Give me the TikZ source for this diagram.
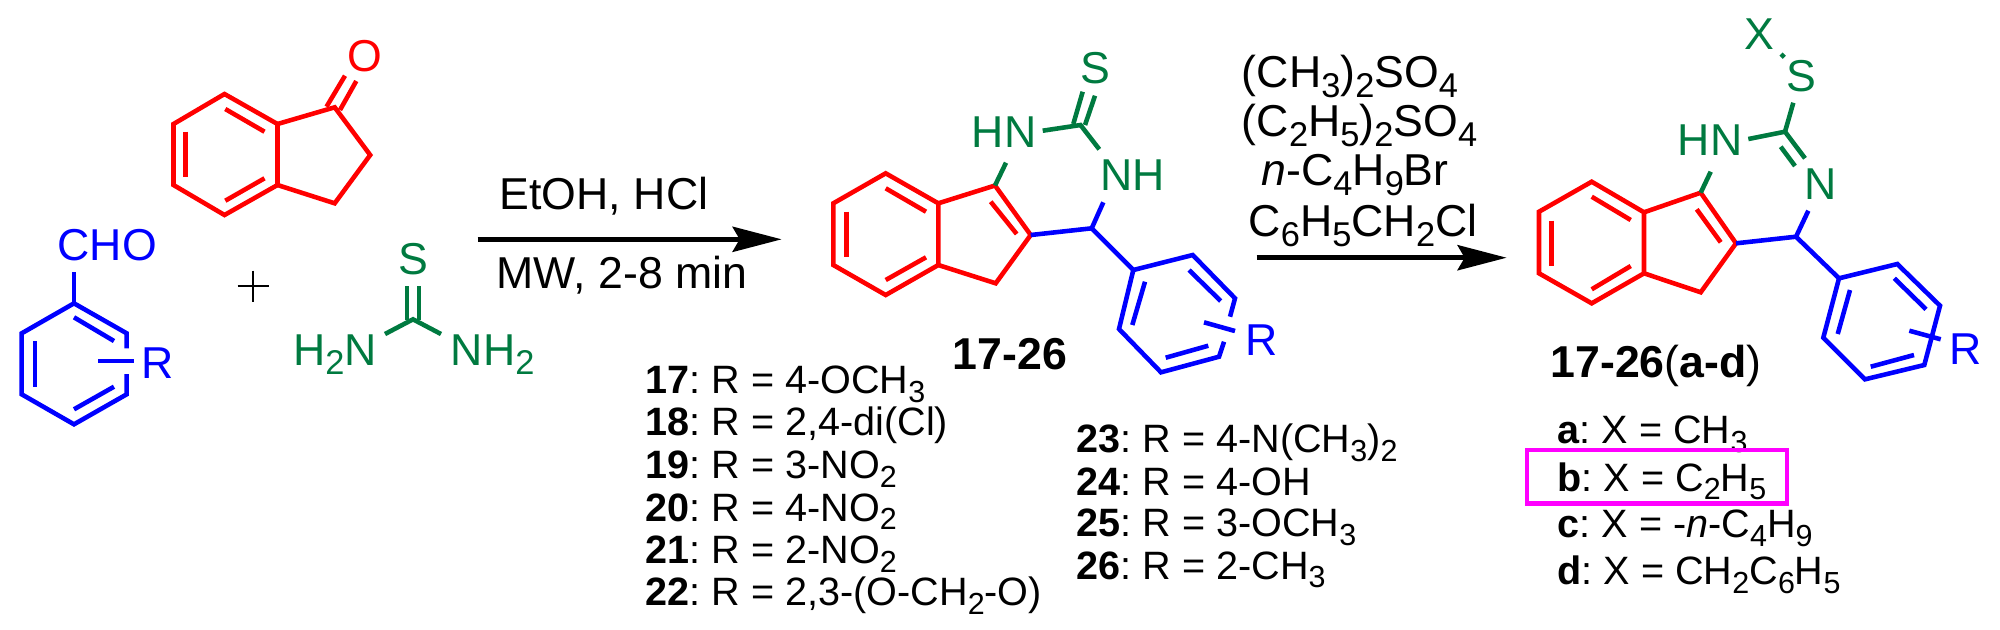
\documentclass[tikz,border=0pt]{standalone}
\usepackage{fontspec}
\setmainfont{Liberation Sans}
\usetikzlibrary{arrows.meta}
\definecolor{mred}{rgb}{1, 0, 0}
\definecolor{mblue}{rgb}{0, 0, 1}
\definecolor{mgreen}{rgb}{0, 0.48, 0.25}
\definecolor{mpink}{rgb}{1, 0, 1}
\newcommand{\sbs}[1]{\raisebox{-0.22em}{\scalebox{0.77}{#1}}}
\tikzset{bond/.style = {line width = 1.3pt, line cap = butt, line join = miter}}
\tikzset{rbond/.style = {bond, draw = mred}}
\tikzset{bbond/.style = {bond, draw = mblue}}
\tikzset{gbond/.style = {bond, draw = mgreen}}
\tikzset{big/.style = {inner sep = 0, font = \fontsize{12.7}{15}\selectfont\frenchspacing}}
\tikzset{small/.style = {inner sep = 0, anchor = base west, font = \fontsize{11.25}{13}\selectfont\frenchspacing}}
\tikzset{gatom/.style = {big, anchor = base, text = mgreen}}
\tikzset{batom/.style = {big, anchor = base west, text = mblue}}
\tikzset{rarrow/.style = {line width = 1.5pt, -{Stealth[length=4.9mm, width=2.5mm, inset=0.7mm]}}}

\begin{document}
\begin{tikzpicture}[x=0.01cm, y=-0.01cm]
  \useasboundingbox (0, 0) rectangle (2000, 629);

  \coordinate (a1) at (224.5, 94);
  \coordinate (a2) at (173.5, 124);
  \coordinate (a3) at (173.5, 185);
  \coordinate (a4) at (224.5, 215);
  \coordinate (a5) at (277.5, 185);
  \coordinate (a6) at (277.5, 124);
  \coordinate (a7) at (334.7, 107.3);
  \coordinate (a8) at (370.2, 155);
  \coordinate (a9) at (334.7, 203.3);
  \draw [rbond] (a1) -- (a2) -- (a3) -- (a4) -- (a5) -- (a6) -- cycle;
  \draw [rbond] (a6) -- (a7) -- (a8) -- (a9) -- (a5);
  \draw [rbond] (225.3, 109) -- (264.5, 131.7);
  \draw [rbond] (185.7, 131.7) -- (185.7, 177.3);
  \draw [rbond] (225.3, 200.7) -- (264.5, 178.3);
  \draw [rbond] (326.5, 106.7) -- (345, 75.7);
  \draw [rbond] (340, 110) -- (356.3, 81);
  \node [big, anchor = base, text = mred] (ketone) at (364.5, 71) {O};

  \coordinate (b1) at (74, 303.3);
  \coordinate (b2) at (21.7, 333.3);
  \coordinate (b3) at (21.7, 394.3);
  \coordinate (b4) at (74, 424.3);
  \coordinate (b5) at (126.7, 394.3);
  \coordinate (b6) at (126.7, 333.3);
  \coordinate (b7) at (74, 271.7);
  \coordinate (b8) at (126.7, 348.3);
  \coordinate (b9) at (126.7, 374);
  \coordinate (b10) at (98.3, 361);
  \coordinate (b11) at (134.3, 361);
  \draw [bbond] (b8) -- (b6) -- (b1) -- (b2) -- (b3) -- (b4) -- (b5) -- (b9);
  \draw [bbond] (b1) -- (b7);
  \draw [bbond] (b10) -- (b11);
  \draw [bbond] (74, 317.3) -- (114, 341);
  \draw [bbond] (35, 341) -- (35, 386.7);
  \draw [bbond] (74, 409.3) -- (114, 386.7);
  \node [big, anchor = base, text = mblue] (cho) at (107.3, 260) {CHO};
  \node [batom] (rleft) at (140.5, 378.3) {R};

  \coordinate (p1) at (237.5, 286);
  \coordinate (p2) at (269.4, 286);
  \coordinate (p3) at (253, 270.7);
  \coordinate (p4) at (253, 301.7);
  \draw [line width = 0.5pt] (p1) -- (p2);
  \draw [line width = 0.5pt] (p3) -- (p4);

  \coordinate (t1) at (413, 319.3);
  \coordinate (t2) at (385, 334);
  \coordinate (t3) at (441, 334);
  \draw [gbond] (t2) -- (t1) -- (t3);
  \draw [gbond] (407, 286) -- (407, 320);
  \draw [gbond] (419, 286) -- (419, 320);
  \node [gatom] (thione) at (413.5, 274.5) {S};
  \node [gatom] (amine1) at (335, 365) {H\sbs{2}N};
  \node [gatom] (amine2) at (492.8, 365) {NH\sbs{2}};

  \coordinate (r1) at (477.5, 239.3);
  \coordinate (r2) at (781.7, 239.3);
  \draw [rarrow] (r1) -- (r2);
  \node [big, anchor = base] (cond1) at (604, 209.3) {EtOH, HCl};
  \node [big, anchor = base] (cond2) at (622, 288.7) {MW, 2-8 min};

  \coordinate (c1) at (885.7, 173.3);
  \coordinate (c2) at (833.3, 203.3);
  \coordinate (c3) at (833.3, 265);
  \coordinate (c4) at (885.7, 295);
  \coordinate (c5) at (938.3, 265);
  \coordinate (c6) at (938.3, 203.3);
  \coordinate (c7) at (995, 185.5);
  \coordinate (c8) at (1030.7, 235);
  \coordinate (c9) at (995.7, 283.3);
  \draw [rbond] (c1) -- (c2) -- (c3) -- (c4) -- (c5) -- (c6) -- cycle;
  \draw [rbond] (c6) -- (c7) -- (c8) -- (c9) -- (c5);
  \draw [rbond] (885.7, 188.3) -- (926, 211.7);
  \draw [rbond] (846.7, 211.7) -- (846.7, 256.7);
  \draw [rbond] (885.7, 280) -- (926, 257.3);
  \draw [rbond] (990.7, 201.7) -- (1016.7, 234);

  \coordinate (c10) at (1006, 162.7);
  \coordinate (c11) at (1080.5, 125);
  \coordinate (c12) at (1042.7, 130.7);
  \coordinate (c13) at (1099.3, 149.3);
  \draw [gbond] (c7) -- (c10);
  \draw [gbond] (c12) -- (c11) -- (c13);
  \draw [gbond] (1073.3, 124) -- (1082.7, 91.7);
  \draw [gbond] (1085, 125) -- (1095, 95.7);
  \node [gatom] (sulfur) at (1095.7, 83) {S};
  \node [gatom] (hn1) at (1004.2, 147.3) {HN};
  \node [gatom] (nh1) at (1132.5, 190.7) {NH};

  \coordinate (d0) at (1091.7, 228.3);
  \coordinate (d1) at (1103.3, 202.3);
  \coordinate (d2) at (1133.3, 270);
  \coordinate (d3) at (1192.7, 255);
  \coordinate (d4) at (1235, 298.3);
  \coordinate (d5) at (1219, 356.7);
  \coordinate (d6) at (1161, 372.3);
  \coordinate (d7) at (1119, 329);
  \coordinate (d8) at (1230, 316.7);
  \coordinate (d9) at (1224, 341.7);
  \coordinate (d10) at (1204, 322.3);
  \coordinate (d11) at (1235, 331);
  \draw [bbond] (c8) -- (d0) -- (d1);
  \draw [bbond] (d0) -- (d2);
  \draw [bbond] (d8) -- (d4) -- (d3) -- (d2) -- (d7) -- (d6) -- (d5) -- (d9);
  \draw [bbond] (d10) -- (d11);
  \draw [bbond] (1145, 281.7) -- (1132.3, 325);
  \draw [bbond] (1189, 270) -- (1220.7, 301);
  \draw [bbond] (1165.7, 357.7) -- (1208.3, 345.7);
  \node [batom] (rmid) at (1244.8, 355) {R};

  \node [big, anchor = base] (name1) at (1010, 369) {\textbf{17-26}};

  \node [small] (r17) at (645, 393.3) {\textbf{17}: R = 4-OCH\sbs{3}};
  \node [small] (r18) at (645, 435.7) {\textbf{18}: R = 2,4-di(Cl)};
  \node [small] (r19) at (645, 478.3) {\textbf{19}: R = 3-NO\sbs{2}};
  \node [small] (r20) at (645, 521) {\textbf{20}: R = 4-NO\sbs{2}};
  \node [small] (r21) at (645, 563.3) {\textbf{21}: R = 2-NO\sbs{2}};
  \node [small] (r22) at (645, 605.7) {\textbf{22}: R = 2,3-(O-CH\sbs{2}-O)};
  \node [small] (r23) at (1076, 452.3) {\textbf{23}: R = 4-N(CH\sbs{3})\sbs{2}};
  \node [small] (r24) at (1076, 495) {\textbf{24}: R = 4-OH};
  \node [small] (r25) at (1076, 536.7) {\textbf{25}: R = 3-OCH\sbs{3}};
  \node [small] (r26) at (1076, 579) {\textbf{26}: R = 2-CH\sbs{3}};

  \coordinate (r3) at (1256.7, 257.7);
  \coordinate (r4) at (1506.7, 257.7);
  \draw [rarrow] (r3) -- (r4);
  \node [big, anchor = base] (reag1) at (1350, 87.3) {(CH\sbs{3})\sbs{2}SO\sbs{4}};
  \node [big, anchor = base] (reag2) at (1359.5, 136.7) {(C\sbs{2}H\sbs{5})\sbs{2}SO\sbs{4}};
  \node [big, anchor = base] (reag3) at (1355, 185.7) {\textit{n}-C\sbs{4}H\sbs{9}Br};
  \node [big, anchor = base] (reag4) at (1363, 236.7) {C\sbs{6}H\sbs{5}CH\sbs{2}Cl};

  \coordinate (e1) at (1591.7, 181.7);
  \coordinate (e2) at (1539, 211.7);
  \coordinate (e3) at (1539, 273.3);
  \coordinate (e4) at (1591.7, 303.3);
  \coordinate (e5) at (1644, 273.3);
  \coordinate (e6) at (1644, 212.3);
  \coordinate (e7) at (1700.7, 192.7);
  \coordinate (e8) at (1736, 243.3);
  \coordinate (e9) at (1700.7, 292.3);
  \draw [rbond] (e1) -- (e2) -- (e3) -- (e4) -- (e5) -- (e6) -- cycle;
  \draw [rbond] (e6) -- (e7) -- (e8) -- (e9) -- (e5);
  \draw [rbond] (1591.7, 196.7) -- (1630.7, 220);
  \draw [rbond] (1551.7, 220.7) -- (1551.7, 265.7);
  \draw [rbond] (1591.7, 289.3) -- (1630.7, 266);
  \draw [rbond] (1696.7, 209.3) -- (1720.7, 242.3);

  \coordinate (e10) at (1710.7, 171.7);
  \coordinate (e11) at (1785, 131.7);
  \coordinate (e12) at (1748.3, 139);
  \coordinate (e13) at (1805, 158.3);
  \coordinate (e14) at (1793.3, 102.7);
  \coordinate (e15) at (1781, 54);
  \coordinate (e16) at (1784.3, 57.3);
  \draw [gbond] (e7) -- (e10);
  \draw [gbond] (e12) -- (e11) -- (e13);
  \draw [gbond] (e11) -- (e14);
  \draw [gbond] (1780.7, 146.7) -- (1795, 166);
  \draw [gbond] (e15) -- (e16);
  \node [gatom] (xgroup) at (1759.3, 49) {X};
  \node [gatom] (sulfur2) at (1801.7, 91) {S};
  \node [gatom] (hn2) at (1710, 155.7) {HN};
  \node [gatom] (imine) at (1821, 199) {N};

  \coordinate (f0) at (1796, 236.7);
  \coordinate (f1) at (1808.3, 210.7);
  \coordinate (f2) at (1839, 278.3);
  \coordinate (f3) at (1897.3, 264);
  \coordinate (f4) at (1940, 305.7);
  \coordinate (f5) at (1924.3, 365);
  \coordinate (f6) at (1865, 379.3);
  \coordinate (f7) at (1823.3, 337.7);
  \coordinate (f8) at (1909.3, 330.7);
  \coordinate (f9) at (1940.7, 339.3);
  \draw [bbond] (e8) -- (f0) -- (f1);
  \draw [bbond] (f0) -- (f2);
  \draw [bbond] (f2) -- (f3) -- (f4) -- (f5) -- (f6) -- (f7) -- cycle;
  \draw [bbond] (f8) -- (f9);
  \draw [bbond] (1850, 290) -- (1837.7, 334);
  \draw [bbond] (1894.3, 278.3) -- (1926, 309.3);
  \draw [bbond] (1870.7, 366.7) -- (1914, 355);
  \node [batom] (rright) at (1949, 364) {R};

  \node [big, anchor = base] (name2) at (1656, 377.7) {\textbf{17-26}(\textbf{a-d})};

  \node [small] (xa) at (1557, 443.3) {\textbf{a}: X = CH\sbs{3}};
  \node [small] (xb) at (1557, 491) {\textbf{b}: X = C\sbs{2}H\sbs{5}};
  \node [small] (xc) at (1557, 537.3) {\textbf{c}: X = -\textit{n}-C\sbs{4}H\sbs{9}};
  \node [small] (xd) at (1557, 584.3) {\textbf{d}: X = CH\sbs{2}C\sbs{6}H\sbs{5}};

  \draw [draw = mpink, line width = 1.2pt] (1527, 450) rectangle (1787, 503.5);
\end{tikzpicture}
\end{document}
